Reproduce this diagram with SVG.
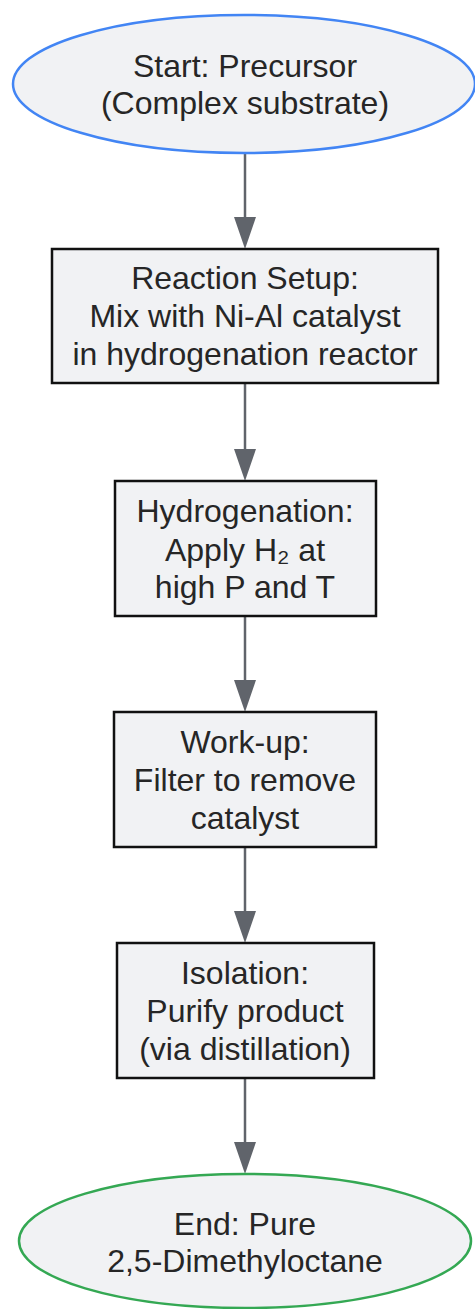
<svg xmlns="http://www.w3.org/2000/svg" width="475" height="1309" viewBox="0 0 475 1309">
<style>
.n{fill:#f1f2f4;}
.box{stroke:#111;stroke-width:2.5;}
.t{font-family:"Liberation Sans",Arial,sans-serif;font-size:32px;fill:#262626;text-anchor:middle;}
.e{stroke:#60646b;stroke-width:2.5;fill:none;}
</style>
<defs>
<marker id="ah" markerWidth="32" markerHeight="22" refX="0" refY="11" orient="auto" markerUnits="userSpaceOnUse" viewBox="0 0 32 22">
<path d="M0,0 L32,11 L0,22 Z" fill="#60646b"/>
</marker>
</defs>
<g id="edges">
<path class="e" d="M245,153 V217" marker-end="url(#ah)"/>
<path class="e" d="M245,383 V449" marker-end="url(#ah)"/>
<path class="e" d="M245,616 V680" marker-end="url(#ah)"/>
<path class="e" d="M245,847 V911" marker-end="url(#ah)"/>
<path class="e" d="M245,1078 V1142" marker-end="url(#ah)"/>
</g>
<g id="start">
<ellipse class="n" cx="244" cy="84" rx="231" ry="69" stroke="#4285f4" stroke-width="2.5"/>
<text class="t" x="245" y="77">Start: Precursor</text>
<text class="t" x="245" y="114">(Complex substrate)</text>
</g>
<g id="setup">
<rect class="n box" x="52" y="249" width="386" height="134"/>
<text class="t" x="245" y="289">Reaction Setup:</text>
<text class="t" x="245" y="327">Mix with Ni-Al catalyst</text>
<text class="t" x="245" y="365">in hydrogenation reactor</text>
</g>
<g id="hydro">
<rect class="n box" x="115" y="481" width="261" height="135"/>
<text class="t" x="245" y="522">Hydrogenation:</text>
<text class="t" x="245" y="561">Apply H₂ at</text>
<text class="t" x="245" y="598">high P and T</text>
</g>
<g id="workup">
<rect class="n box" x="114" y="712" width="262" height="135"/>
<text class="t" x="245" y="753">Work-up:</text>
<text class="t" x="245" y="791">Filter to remove</text>
<text class="t" x="245" y="829">catalyst</text>
</g>
<g id="isolation">
<rect class="n box" x="117" y="943" width="257" height="135"/>
<text class="t" x="245" y="984">Isolation:</text>
<text class="t" x="245" y="1022">Purify product</text>
<text class="t" x="245" y="1060">(via distillation)</text>
</g>
<g id="end">
<ellipse class="n" cx="245" cy="1241" rx="226" ry="67" stroke="#34a853" stroke-width="2.5"/>
<text class="t" x="245" y="1235">End: Pure</text>
<text class="t" x="245" y="1272">2,5-Dimethyloctane</text>
</g>
</svg>
